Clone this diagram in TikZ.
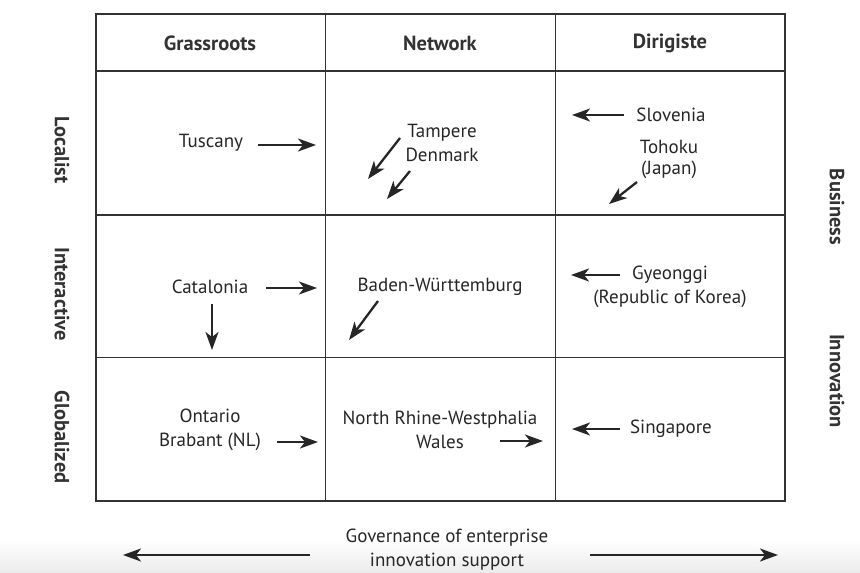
\documentclass[tikz,border=0pt]{standalone}
\usepackage{fontspec}
\setmainfont{PT Sans}
\usetikzlibrary{arrows.meta}
\begin{document}
\begin{tikzpicture}[x=1pt,y=-1pt,
  gridline/.style={line width=1.2pt, draw=black!80},
  lbl/.style={font=\fontsize{19}{24}\selectfont, text=black!85, align=center, inner sep=0pt},
  hdr/.style={font=\fontsize{20.5}{24}\selectfont\bfseries, text=black!80, inner sep=0pt},
  side/.style={hdr, rotate=-90},
  arr/.style={line width=2.3pt, -{Stealth[length=18pt,width=13pt,inset=5pt]}, draw=black!85},
]
\useasboundingbox (0,0) rectangle (860,573);
\shade[top color=white,bottom color=black!8] (0,540) rectangle (860,573);

% grid
\draw[gridline] (96,14) rectangle (785,501);
\draw[gridline] (325.5,14) -- (325.5,501);
\draw[gridline] (555.5,14) -- (555.5,501);
\draw[gridline] (96,71) -- (785,71);
\draw[gridline] (96,215) -- (785,215);
\draw[gridline] (96,357.5) -- (785,357.5);

% headers
\node[hdr] (hg) at (210,43) {Grassroots};
\node[hdr] (hn) at (440,43) {Network};
\node[hdr] (hd) at (670,43) {Dirigiste};

% side labels
\node[side] (sl) at (62,150) {Localist};
\node[side] (si) at (62,294) {Interactive};
\node[side] (sg) at (62,437) {Globalized};
\node[side] (sb) at (837,207) {Business};
\node[side] (sin) at (837,381) {Innovation};

% cells
\node[lbl] (tus) at (211,143) {Tuscany};
\node[lbl] (tam) at (442,143) {Tampere\\Denmark};
\node[lbl] (slo) at (671,115) {Slovenia};
\node[lbl, font=\fontsize{19}{21}\selectfont] (toh) at (669,159) {Tohoku\\(Japan)};
\node[lbl] (cat) at (210,287) {Catalonia};
\node[lbl] (bad) at (440,287) {Baden-Württemburg};
\node[lbl] (gye) at (670,287) {Gyeonggi\\(Republic of Korea)};
\node[lbl] (ont) at (210,430) {Ontario\\Brabant (NL)};
\node[lbl] (nrw) at (440,430) {North Rhine-Westphalia\\Wales};
\node[lbl] (sgp) at (671,429) {Singapore};
\node[lbl] (gov) at (447,550) {Governance of enterprise\\innovation support};

% arrow end points
\coordinate (a1s) at (258,145); \coordinate (a1e) at (316,145);
\coordinate (a2s) at (400,138); \coordinate (a2e) at (368,179);
\coordinate (a3s) at (410,171); \coordinate (a3e) at (387,199);
\coordinate (a4s) at (624,115); \coordinate (a4e) at (572,115);
\coordinate (a5s) at (637,182); \coordinate (a5e) at (609,204);
\coordinate (a6s) at (266,288); \coordinate (a6e) at (317,288);
\coordinate (a7s) at (212,304); \coordinate (a7e) at (212,350);
\coordinate (a8s) at (378,301); \coordinate (a8e) at (349,340);
\coordinate (a9s) at (620,275); \coordinate (a9e) at (571,275);
\coordinate (a10s) at (277,442); \coordinate (a10e) at (318,442);
\coordinate (a11s) at (500,441); \coordinate (a11e) at (543,441);
\coordinate (a12s) at (620,429); \coordinate (a12e) at (572,429);
\coordinate (a13s) at (310,555); \coordinate (a13e) at (123,555);
\coordinate (a14s) at (590,555); \coordinate (a14e) at (778,555);

\foreach \i in {1,...,14} \draw[arr] (a\i s) -- (a\i e);
\end{tikzpicture}
\end{document}
